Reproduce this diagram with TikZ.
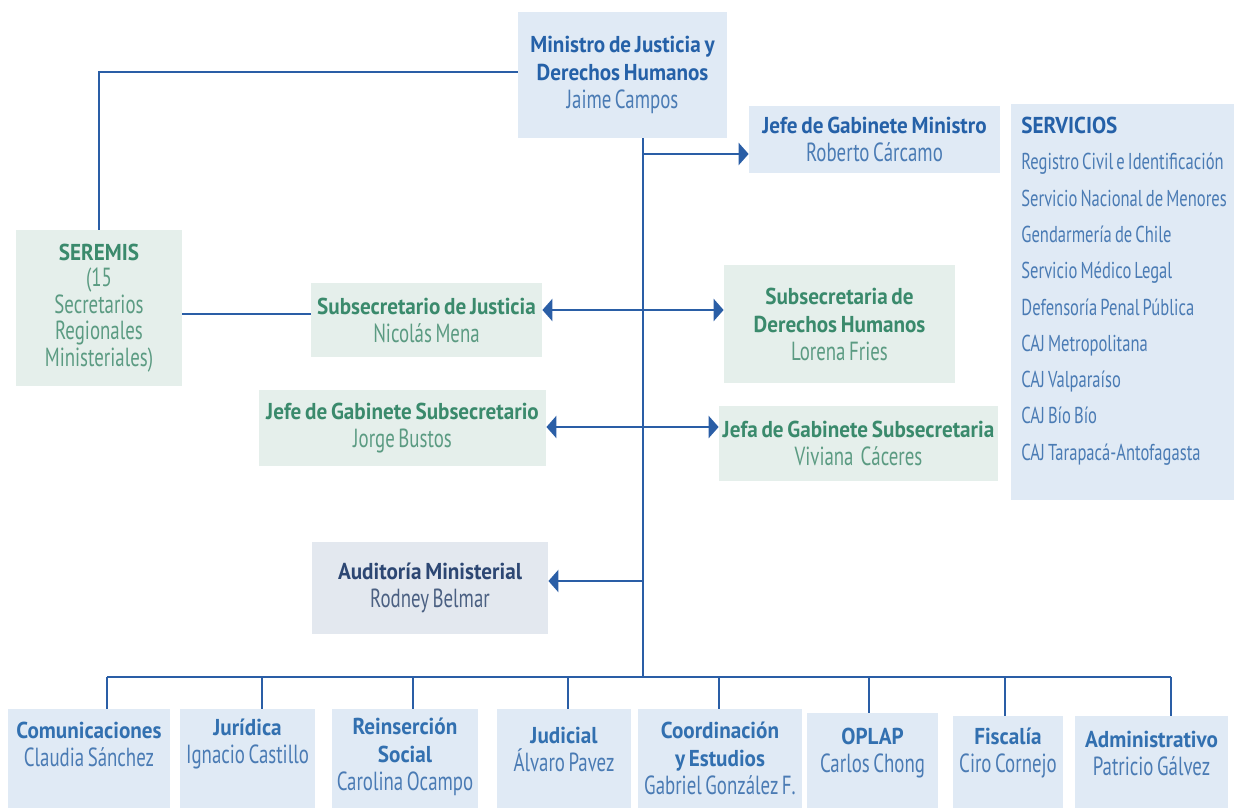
\documentclass[tikz,border=0pt]{standalone}
\usepackage{fontspec}
\setmainfont{PT Sans}[UprightFeatures={FakeStretch=0.72}, BoldFeatures={FakeStretch=0.92}, WordSpace=0.7]
\usetikzlibrary{arrows.meta}

\definecolor{linea}{HTML}{2A5EA6}
\definecolor{fondoazul}{HTML}{E0EAF5}
\definecolor{fondoverde}{HTML}{E5EFEB}
\definecolor{fondogris}{HTML}{E3E8EF}
\definecolor{titazul}{HTML}{2561A8}
\definecolor{titazulb}{HTML}{3270B0}
\definecolor{nomazul}{HTML}{4A7BB4}
\definecolor{titverde}{HTML}{3A8A6C}
\definecolor{nomverde}{HTML}{5B9B82}
\definecolor{titgris}{HTML}{2D4773}
\definecolor{nomgris}{HTML}{4B6082}

% nombre bajo el cargo
\newcommand{\nom}[2]{\mdseries\fontsize{13.1}{14}\selectfont\color{#1}#2}

\tikzset{
  caja/.style 2 args={inner sep=0pt, minimum width=#1*0.5pt,
    minimum height=#2*0.5pt, align=center, font=\fontsize{11.5}{14}\selectfont\bfseries},
  azul/.style={fill=fondoazul, text=titazul},
  verde/.style={fill=fondoverde, text=titverde},
  gris/.style={fill=fondogris, text=titgris},
  texto/.style={inner sep=0pt, align=center, font=\fontsize{11.5}{14}\selectfont},
  conector/.style={draw=linea, line width=1.2pt},
  flecha/.style={conector, line width=1.4pt, -{Triangle[length=5pt,width=11pt]}},
  dflecha/.style={conector, line width=1.4pt, {Triangle[length=5pt,width=11pt]}-{Triangle[length=5pt,width=11pt]}}
}

\begin{document}
\begin{tikzpicture}[x=0.5pt, y=-0.5pt]
  %%%%% START %%%%%
  \useasboundingbox (0,0) rectangle (1234,807);

  % ministro y gabinete
  \node[caja={209}{126}, azul] (mjdh) at (622.5,75)
    {Ministro de Justicia y\\Derechos Humanos\\\nom{nomazul}{Jaime Campos}};
  \node[caja={251}{67}, azul] (jgm) at (874.5,139.5)
    {Jefe de Gabinete Ministro\\\nom{nomazul}{Roberto Cárcamo}};

  % subsecretarias
  \node[caja={166}{156}, verde, font=\fontsize{11.5}{13.25}\selectfont\bfseries] (seremis) at (99,308)
    {SEREMIS\\\nom{nomverde}{(15}\\\nom{nomverde}{Secretarios}\\
     \nom{nomverde}{Regionales}\\\nom{nomverde}{Ministeriales)}};
  \node[caja={231}{74}, verde] (sj) at (426.5,320)
    {Subsecretario de Justicia\\\nom{nomverde}{Nicolás Mena}};
  \node[caja={231}{117}, verde] (sdh) at (839.5,324)
    {Subsecretaria de\\Derechos Humanos\\\nom{nomverde}{Lorena Fries}};
  \node[caja={287}{76}, verde] (jgs) at (402.5,428)
    {Jefe de Gabinete Subsecretario\\\nom{nomverde}{Jorge Bustos}};
  \node[caja={279}{75}, verde] (jfgs) at (858.5,443)
    {Jefa de Gabinete Subsecretaria\\\nom{nomverde}{Viviana\ \ Cáceres}};
  \node[caja={236}{92}, gris] (aud) at (430,588)
    {Auditoría Ministerial\\\nom{nomgris}{Rodney Belmar}};

  % servicios
  \node[caja={223}{396}, azul, anchor=north west] (serv) at (1011,104) {};
  \node[texto, anchor=base west, text=titazul] (servT) at (1021,134) {\bfseries SERVICIOS};
  \foreach \s [count=\i from 0] in {Registro Civil e Identificación,
      Servicio Nacional de Menores, Gendarmería de Chile, Servicio Médico Legal,
      Defensoría Penal Pública, CAJ Metropolitana, CAJ Valparaíso, CAJ Bío Bío,
      CAJ Tarapacá-Antofagasta}
    \node[texto, anchor=base west, text=nomazul] (s\i) at (1021,{170+36.25*\i}) {\s};

  % divisiones
  \foreach \nm/\l/\r/\t/\dx/\ty/\tit/\n in {
      com/8/170/709/107/744/Comunicaciones/Claudia Sánchez,
      jur/180/315/709/262/744/Jurídica/Ignacio Castillo,
      rei/332/478/709/413/757/{Reinserción\\Social}/Carolina Ocampo,
      jud/497/631/709/568/749/Judicial/Álvaro Pavez,
      coo/638/802/709/719/758/{Coordinación\\y Estudios}/Gabriel González F.,
      opl/807/938/713/869/753/OPLAP/Carlos Chong,
      fis/953/1063/716/1005/753/Fiscalía/Ciro Cornejo,
      adm/1075/1228/716/1171/753/Administrativo/Patricio Gálvez} {
    \node[caja={(\r-\l)}{(809-\t)}, fill=fondoazul, anchor=north west] (\nm) at (\l,\t) {};
    \node[texto, font=\fontsize{11.5}{14}\selectfont\bfseries, text=titazulb] (\nm-t)
      at ({(\l+\r)/2},\ty) {\tit\\\nom{nomazul}{\n}};
    \coordinate (d-\nm) at (\dx,677);
    \draw[conector] (d-\nm) -- (d-\nm |- \nm.north);
  }
  \draw[conector] (d-com) -- (d-adm);

  % lineas
  \coordinate (tronco) at (643,677);
  \coordinate (c1) at (643,154);
  \coordinate (c2) at (643,310);
  \coordinate (c3) at (643,427);
  \coordinate (c4) at (643,581);
  \coordinate (c5) at (643,314);
  \draw[conector, line width=1pt] (mjdh.west |- 0,72) -| (seremis.north);
  \draw[conector] (c5 -| seremis.east) -- (c5 -| sj.west);
  \draw[flecha] (c1) -- (c1 -| jgm.west);
  \draw[dflecha] (c2 -| sj.east) -- (c2 -| sdh.west);
  \draw[dflecha] (c3 -| jgs.east) -- (c3 -| jfgs.west);
  \draw[flecha] (c4) -- (c4 -| aud.east);
  \draw[conector, line width=0.8pt] (tronco |- mjdh.south) -- (tronco);

  %%%%% END %%%%%
\end{tikzpicture}
\end{document}
